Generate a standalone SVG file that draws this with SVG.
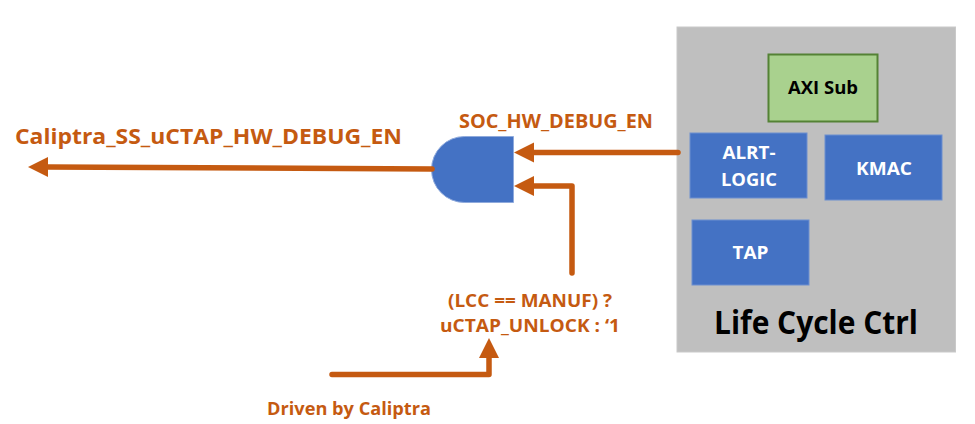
<svg xmlns="http://www.w3.org/2000/svg" width="975" height="424" viewBox="0 0 975 424">
<style>
text{font-family:"Open Sans","Noto Sans","Liberation Sans",sans-serif;font-weight:700}
.o{fill:#c55a11}
.w{fill:#fff;font-size:18.5px;text-anchor:middle}
.b{fill:#4472c4;stroke:#6d8fd0;stroke-width:1}
.c{fill:none;stroke:#c55a11;stroke-width:5.5;stroke-linecap:round;stroke-linejoin:round}
.h{fill:#c55a11}
</style>
<rect width="975" height="424" fill="#fff"/>
<g id="life-cycle-ctrl">
<rect x="677" y="27" width="278.500" height="325" fill="#bfbfbf" stroke="#c9c9c9"/>
<text x="816" y="334" font-size="33" fill="#000" text-anchor="middle" textLength="204" lengthAdjust="spacingAndGlyphs">Life Cycle Ctrl</text>
</g>
<g id="axi-sub">
<rect x="768.500" y="54.500" width="109" height="67" fill="#a9d18e" stroke="#548235" stroke-width="2"/>
<text x="823" y="94" font-size="18.500" fill="#000" text-anchor="middle" textLength="70" lengthAdjust="spacingAndGlyphs">AXI Sub</text>
</g>
<g id="alrt-logic">
<rect class="b" x="690" y="133" width="117" height="65"/>
<text class="w" x="749" y="159" textLength="53" lengthAdjust="spacingAndGlyphs">ALRT-</text>
<text class="w" x="749" y="185.500" textLength="56" lengthAdjust="spacingAndGlyphs">LOGIC</text>
</g>
<g id="kmac">
<rect class="b" x="825" y="135" width="117" height="65"/>
<text class="w" x="884" y="174.500" textLength="56" lengthAdjust="spacingAndGlyphs">KMAC</text>
</g>
<g id="tap">
<rect class="b" x="692" y="220" width="117" height="65"/>
<text class="w" x="750.500" y="259" textLength="36" lengthAdjust="spacingAndGlyphs">TAP</text>
</g>
<g id="and-gate">
<path d="M513.500 136.500V202.500H464.500A33 33 0 0 1 464.500 136.500Z" fill="#4472c4" stroke="#8faadc" stroke-width="1"/>
</g>
<g id="connectors">
<path class="c" d="M432 169L48 167"/>
<path class="h" d="M48 157L28 167L48 177Z"/>
<path class="c" d="M678 152.500H534"/>
<path class="h" d="M534 142.500L514 152.500L534 162.500Z"/>
<path class="c" d="M572 273V186H534"/>
<path class="h" d="M534 176L514 186L534 196Z"/>
<path class="c" d="M332 374.500H489V358"/>
<path class="h" d="M479 358L489 338L499 358Z"/>
</g>
<g id="labels">
<text class="o" x="15" y="143.500" font-size="21" textLength="387" lengthAdjust="spacingAndGlyphs">Caliptra_SS_uCTAP_HW_DEBUG_EN</text>
<text class="o" x="459" y="128" font-size="19" textLength="194" lengthAdjust="spacingAndGlyphs">SOC_HW_DEBUG_EN</text>
<text class="o" x="530" y="306.500" font-size="18.500" text-anchor="middle" textLength="164" lengthAdjust="spacingAndGlyphs">(LCC == MANUF) ?</text>
<text class="o" x="530" y="332" font-size="18.500" text-anchor="middle" textLength="180" lengthAdjust="spacingAndGlyphs">uCTAP_UNLOCK : ‘1</text>
<text class="o" x="349" y="415" font-size="18.500" text-anchor="middle" textLength="164" lengthAdjust="spacingAndGlyphs">Driven by Caliptra</text>
</g>
</svg>
